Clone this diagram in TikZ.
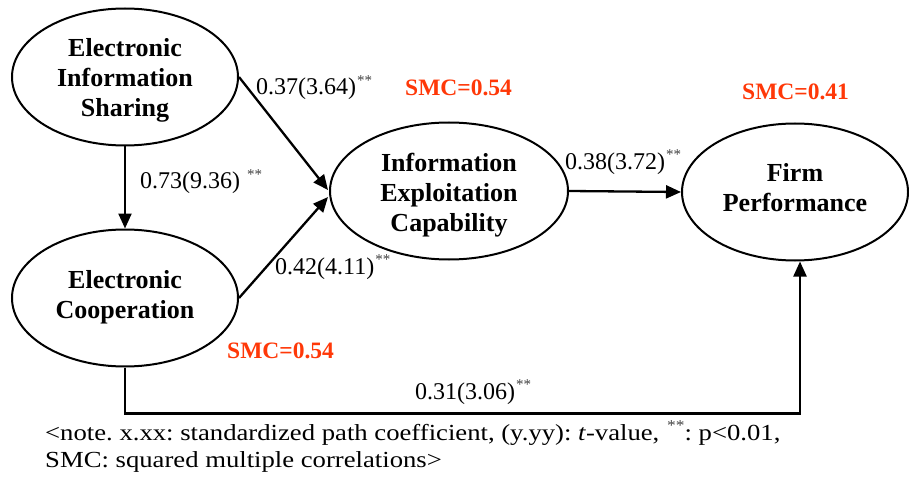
\documentclass[tikz,border=0pt]{standalone}
\usepackage{fontspec}
\usepackage{graphicx}
\setmainfont{Liberation Serif}
\usetikzlibrary{arrows.meta,shapes.geometric,calc}
\definecolor{smcred}{RGB}{255,56,8}
\frenchspacing
% significance stars, set small and raised
\newcommand{\sigmark}{\kern1pt\raisebox{9.5pt}{\fontsize{15}{15}\selectfont\color{black!75}**}}
\begin{document}
\begin{tikzpicture}[x=1pt,y=-1pt,
  latent/.style={ellipse,draw,line width=2pt,inner sep=0pt,
    minimum width=226pt,minimum height=137pt},
  lattext/.style={align=center,inner sep=0pt,font=\fontsize{26}{30}\selectfont\bfseries},
  pathline/.style={line width=2.3pt,-{Triangle[length=15pt,width=13pt]}},
  coef/.style={font=\fontsize{24}{26}\selectfont,inner sep=0pt,anchor=base west},
  smc/.style={font=\fontsize{23.5}{26}\selectfont\bfseries,text=smcred,inner sep=0pt,anchor=base west},
  note/.style={font=\fontsize{23}{27}\selectfont,inner sep=0pt,anchor=base west}]
\useasboundingbox (0,0) rectangle (909,481);

% latent constructs
\node[latent] (eis) at (125,77) {};
\node[latent] (ec) at (125,298) {};
\node[latent,minimum width=238pt] (iec) at (449,191) {};
\node[latent] (fp) at (795,192) {};

% construct names
\node[lattext] (eist) at ($(eis.center)+(0,3)$) {Electronic\\Information\\Sharing};
\node[lattext] (ect) at ($(ec.center)+(0,-1)$) {Electronic\\Cooperation};
\node[lattext] (iect) at ($(iec.center)+(0,4)$) {Information\\Exploitation\\Capability};
\node[lattext] (fpt) at ($(fp.center)+(0,-4)$) {Firm\\Performance};

% arrow end points on the receiving constructs
\coordinate (iecin1) at ($(iec.west)+(-1,-1)$);
\coordinate (iecin2) at ($(iec.west)+(-1,6)$);
\coordinate (fpin) at ($(fp.south)+(5,0)$);

% structural paths
\draw[pathline] (eis.south) -- (ec.north);
\draw[pathline] (eis.east) -- (iecin1);
\draw[pathline] (ec.east) -- (iecin2);
\draw[pathline] (iec.east) -- (fp.west);
\draw[pathline] (ec.south) -- ++(0,46) -| (fpin);

% path coefficients (t-values)
\node[coef] (c1) at (256,95) {0.37(3.64)\sigmark};
\node[coef] (c2) at (140,189) {0.73(9.36) \sigmark};
\node[coef] (c3) at (275,274) {0.42(4.11)\sigmark};
\node[coef] (c4) at (565,169) {0.38(3.72)\sigmark};
\node[coef] (c5) at (415,399) {0.31(3.06)\sigmark};

% squared multiple correlations
\node[smc] (s1) at (405,96) {SMC=0.54};
\node[smc] (s2) at (742,100) {SMC=0.41};
\node[smc] (s3) at (227,358) {SMC=0.54};

% legend
\node[note] (n1) at (45,440) {\scalebox{1.16}[1]{<note. x.xx: standardized path coefficient, (y.yy): \textit{t}-value, \sigmark: p<0.01,}};
\node[note] (n2) at (45,467) {\scalebox{1.16}[1]{SMC: squared multiple correlations>}};
\end{tikzpicture}
\end{document}
